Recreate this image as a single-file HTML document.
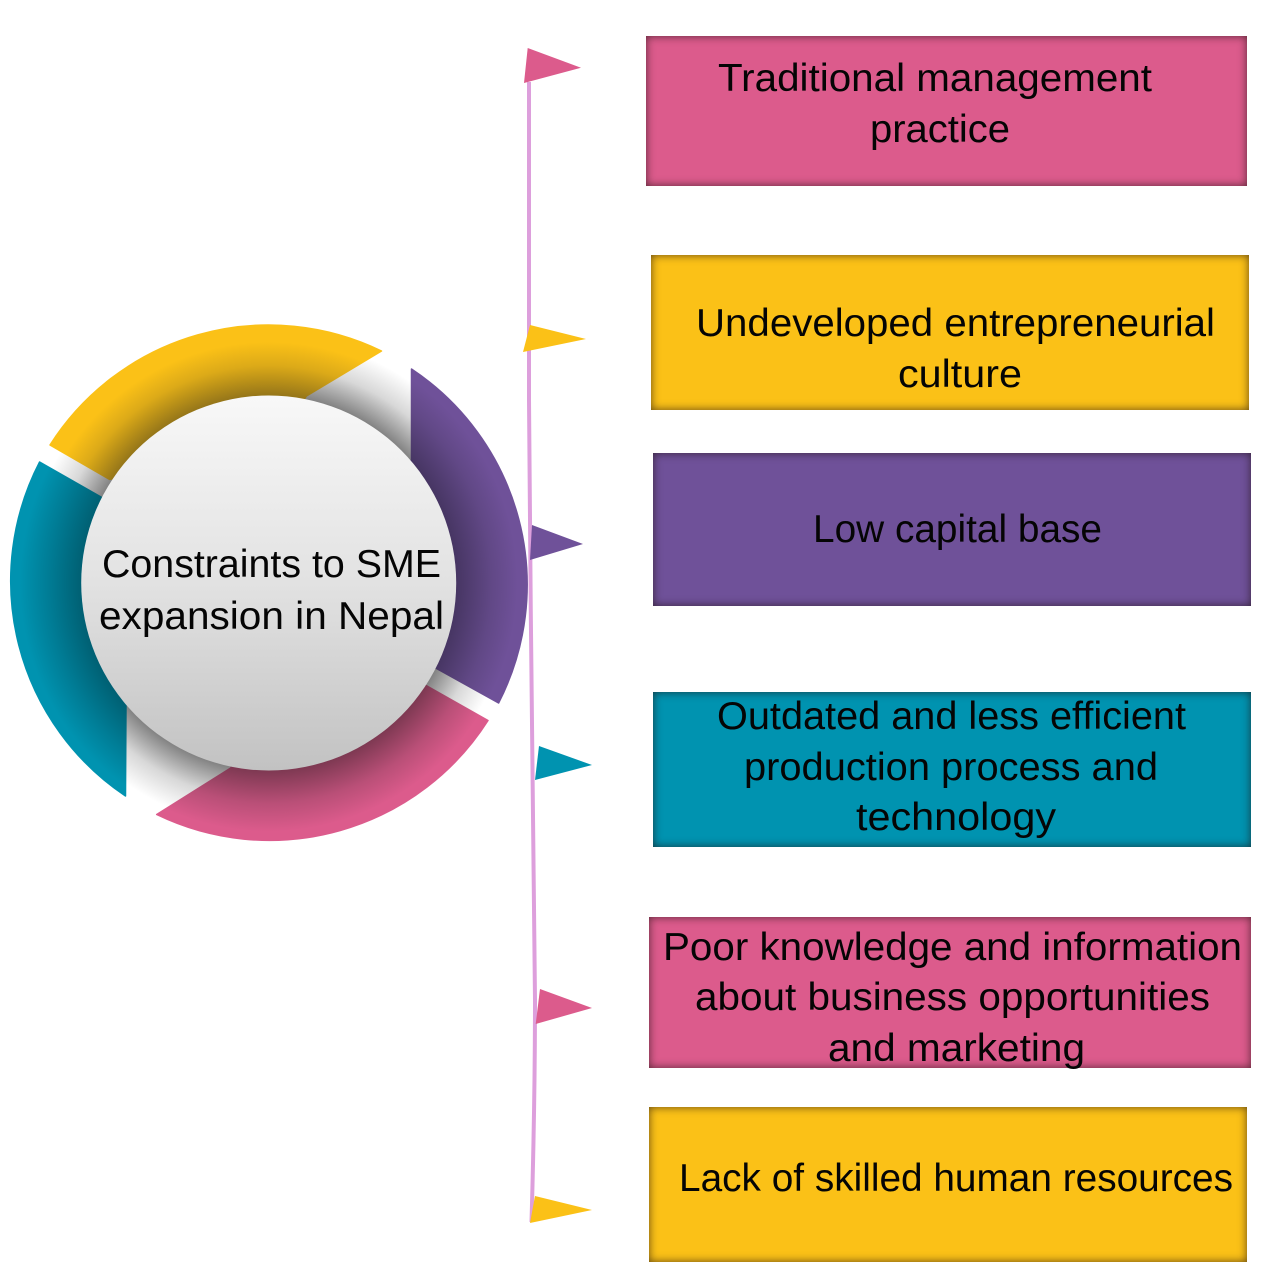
<!DOCTYPE html>
<html>
<head>
<meta charset="utf-8">
<style>
html,body{margin:0;padding:0;background:#fff;}
#w{position:relative;width:1280px;height:1280px;overflow:hidden;background:#fff;}
.b{position:absolute;box-shadow:inset 0 0 9px rgba(30,15,15,.7);}
svg{position:absolute;left:0;top:0;}
text{font-family:"Liberation Sans",sans-serif;font-size:39px;fill:#050505;}
</style>
</head>
<body>
<div id="w">
<div class="b" style="left:646px;top:36px;width:601px;height:150px;background:#dc5b8c"></div>
<div class="b" style="left:651px;top:255px;width:598px;height:155px;background:#fbc117"></div>
<div class="b" style="left:653px;top:453px;width:598px;height:153px;background:#6f5199"></div>
<div class="b" style="left:653px;top:692px;width:598px;height:155px;background:#0093b0"></div>
<div class="b" style="left:649px;top:917px;width:602px;height:151px;background:#dc5b8c"></div>
<div class="b" style="left:649px;top:1107px;width:598px;height:155px;background:#fbc117"></div>
<svg width="1280" height="1280" viewBox="0 0 1280 1280">
<defs>
<radialGradient id="sh" gradientUnits="userSpaceOnUse" cx="268.7" cy="583" r="259">
<stop offset="0.72" stop-color="#808080"/><stop offset="0.84" stop-color="#d8d8d8"/><stop offset="0.95" stop-color="#fff"/>
</radialGradient>
<radialGradient id="gy" gradientUnits="userSpaceOnUse" cx="268.7" cy="583" r="259">
<stop offset="0.72" stop-color="#937419"/><stop offset="0.84" stop-color="#dcaa18"/><stop offset="0.93" stop-color="#fbc117"/>
</radialGradient>
<radialGradient id="gp" gradientUnits="userSpaceOnUse" cx="268.7" cy="583" r="259">
<stop offset="0.72" stop-color="#463562"/><stop offset="0.86" stop-color="#614886"/><stop offset="0.96" stop-color="#6f5199"/>
</radialGradient>
<radialGradient id="gk" gradientUnits="userSpaceOnUse" cx="268.7" cy="583" r="259">
<stop offset="0.72" stop-color="#7c3851"/><stop offset="0.85" stop-color="#b94f77"/><stop offset="0.96" stop-color="#dc5b8c"/>
</radialGradient>
<radialGradient id="gt" gradientUnits="userSpaceOnUse" cx="268.7" cy="583" r="259">
<stop offset="0.72" stop-color="#005f72"/><stop offset="0.85" stop-color="#007c95"/><stop offset="0.96" stop-color="#0093b0"/>
</radialGradient>
<linearGradient id="c" x1="0" y1="0" x2="0" y2="1">
<stop offset="0" stop-color="#f8f8f8"/><stop offset="0.5" stop-color="#e2e2e2"/><stop offset="1" stop-color="#c2c2c2"/>
</linearGradient>
</defs>
<circle cx="268.7" cy="583" r="259" fill="url(#sh)"/>
<path d="M381.5 351 A259 259 0 0 0 50 445 L109.5 479.4 L268 450 L306.5 396 Z" fill="url(#gy)" stroke="url(#gy)" stroke-width="1.5" stroke-linejoin="round"/>
<path d="M411.5 369 A259 259 0 0 1 498.6 703 L435.6 668 L300 580 L411.5 460 Z" fill="url(#gp)" stroke="url(#gp)" stroke-width="1.5" stroke-linejoin="round"/>
<path d="M488 720.5 A259 259 0 0 1 156.7 814.5 L230.7 768 L300 650 L427 686 Z" fill="url(#gk)" stroke="url(#gk)" stroke-width="1.5" stroke-linejoin="round"/>
<path d="M39.6 462 A259 259 0 0 0 125.5 796 L126 704 L240 580 L101 497 Z" fill="url(#gt)" stroke="url(#gt)" stroke-width="1.5" stroke-linejoin="round"/>
<circle cx="268.7" cy="583" r="187.5" fill="url(#c)"/>

<path d="M529 82 C528 200 528 300 529 400 C530 600 534 850 535 1000 C535 1100 533 1170 531.5 1222" fill="none" stroke="#dd9fdc" stroke-width="4"/>
<polygon points="527.7,48 581,67.7 524,83" fill="#dc5b8c"/>
<polygon points="530,325 586,339 523,352" fill="#fbc117"/>
<polygon points="532,525 583,544 530,560" fill="#6f5199"/>
<polygon points="539,746 592,765 535,780" fill="#0093b0"/>
<polygon points="540,989 592,1008 535.7,1024" fill="#dc5b8c"/>
<polygon points="535,1196 592,1210 530,1223" fill="#fbc117"/>

<text x="102" y="577" textLength="339" lengthAdjust="spacingAndGlyphs">Constraints to SME</text>
<text x="99" y="629" textLength="345" lengthAdjust="spacingAndGlyphs">expansion in Nepal</text>
<text x="718" y="91" textLength="434" lengthAdjust="spacingAndGlyphs">Traditional management</text>
<text x="870" y="142" textLength="140" lengthAdjust="spacingAndGlyphs">practice</text>
<text x="696" y="336" textLength="519" lengthAdjust="spacingAndGlyphs">Undeveloped entrepreneurial</text>
<text x="898" y="387" textLength="124" lengthAdjust="spacingAndGlyphs">culture</text>
<text x="813" y="542" textLength="289" lengthAdjust="spacingAndGlyphs">Low capital base</text>
<text x="717" y="729" textLength="469" lengthAdjust="spacingAndGlyphs">Outdated and less efficient</text>
<text x="744" y="780" textLength="414" lengthAdjust="spacingAndGlyphs">production process and</text>
<text x="856" y="830" textLength="200" lengthAdjust="spacingAndGlyphs">technology</text>
<text x="663" y="960" textLength="579" lengthAdjust="spacingAndGlyphs">Poor knowledge and information</text>
<text x="695" y="1010" textLength="515" lengthAdjust="spacingAndGlyphs">about business opportunities</text>
<text x="828" y="1061" textLength="257" lengthAdjust="spacingAndGlyphs">and marketing</text>
<text x="679" y="1191" textLength="554" lengthAdjust="spacingAndGlyphs">Lack of skilled human resources</text>
</svg>
</div>
</body>
</html>
